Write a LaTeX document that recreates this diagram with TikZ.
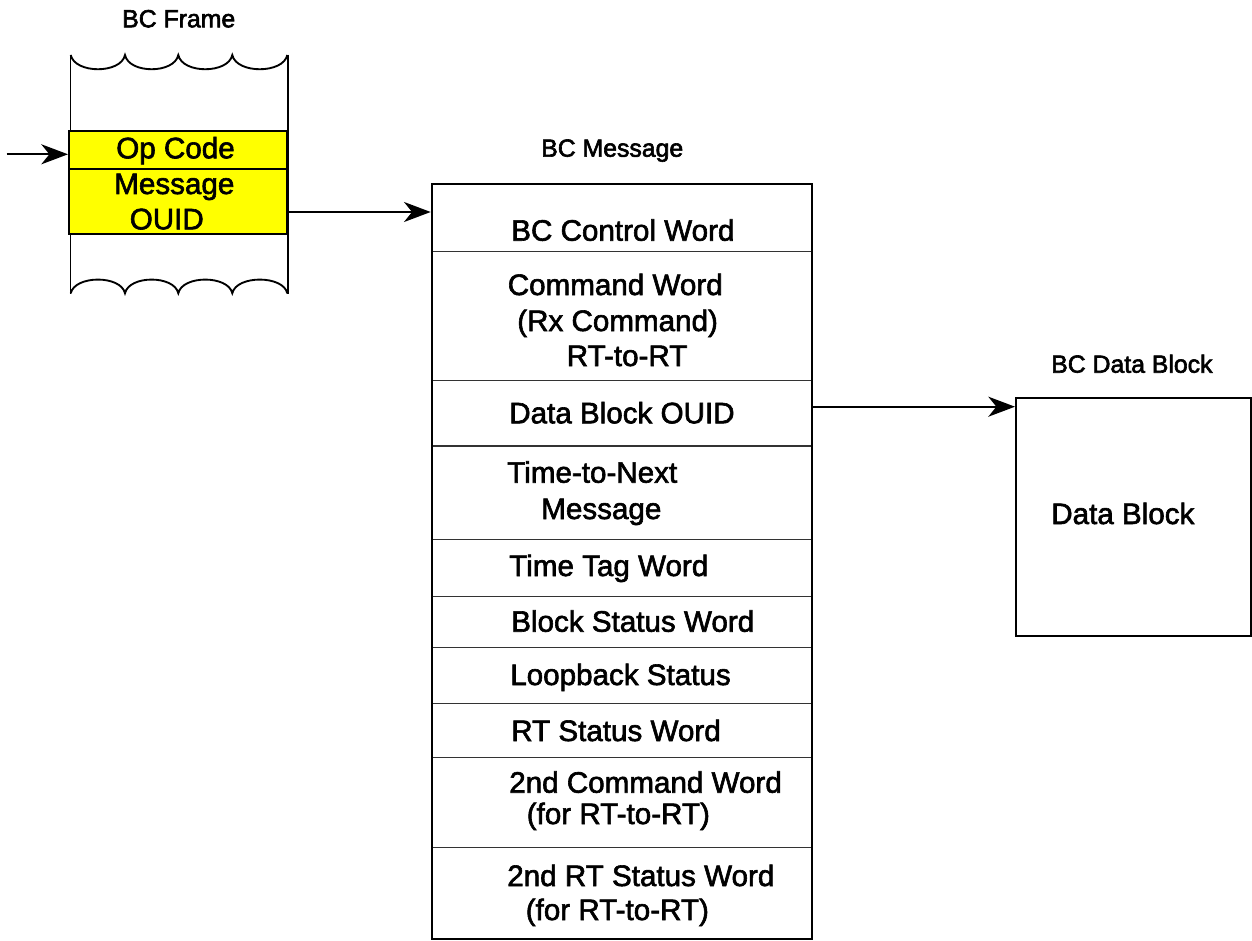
\documentclass[tikz,border=0pt]{standalone}
\usepackage{fontspec}
\setmainfont{Liberation Sans}
\usetikzlibrary{arrows.meta,fit}
\definecolor{hiyellow}{RGB}{255,255,0}
\newcommand{\heavytxt}[1]{\special{pdf:literal direct 2 Tr 0.45 w}#1\special{pdf:literal direct 0 Tr}}
\begin{document}
\begin{tikzpicture}[x=0.75pt,y=-0.75pt,
  outline/.style={draw, line width=1.5pt, inner sep=0pt},
  rowbox/.style={draw=black!80, line width=0.9pt, inner sep=0pt},
  txt/.style={anchor=base west, inner sep=0pt, font=\fontsize{22.2}{25}\selectfont},
  ttl/.style={anchor=base west, inner sep=0pt, font=\fontsize{18.6}{21}\selectfont},
  edge/.style={line width=1.4pt},
  arr/.style={line width=1.5pt, -{Stealth[length=20pt,width=15pt,inset=6pt]}}]
\useasboundingbox (0,0) rectangle (1252,941);

% ---------------- BC Frame ----------------
\node[ttl] (frameT) at (122,27.3) {\heavytxt{BC Frame}};
\node[fit={(70.7,55) (287.3,293.3)}, inner sep=0pt] (frame) {};
\draw[edge] (frame.north west) -- (frame.south west);
\draw[edge] (frame.north east) -- (frame.south east);
\draw[edge] (70.7,55) .. controls (75,74) and (121,74) .. (125,55)
  .. controls (129,74) and (174.3,74) .. (178.3,55)
  .. controls (182.3,74) and (228.3,74) .. (232.3,55)
  .. controls (236.3,74) and (283.3,74) .. (287.3,55);
\draw[edge] (70.7,293.3) .. controls (75,275) and (121,275) .. (125,293.3)
  .. controls (129,275) and (174.3,275) .. (178.3,293.3)
  .. controls (182.3,275) and (228.3,275) .. (232.3,293.3)
  .. controls (236.3,275) and (283.3,275) .. (287.3,293.3);

\node[fit={(69,131) (286.7,169.3)}, outline, fill=hiyellow] (opc) {};
\node[fit={(69,169.3) (286.7,234.3)}, outline, fill=hiyellow] (mouid) {};
\node[txt] (opT) at (116,158.3) {\heavytxt{Op Code}};
\node[txt] (msgT) at (114,194) {\heavytxt{Message}};
\node[txt] (ouidT) at (129.5,229.3) {\heavytxt{OUID}};

\coordinate (src) at (6.7,154.3);
\draw[arr] (src) -- (src -| opc.west);

% ---------------- BC Message ----------------
\node[ttl] (msgTitle) at (541,156.7) {\heavytxt{BC Message}};
\node[fit={(431.7,184.3) (811.7,251.7)}, rowbox] (r1) {};
\node[fit={(431.7,251.7) (811.7,380.7)}, rowbox] (r2) {};
\node[fit={(431.7,380.7) (811.7,446)}, rowbox] (r3) {};
\node[fit={(431.7,446) (811.7,539.3)}, rowbox] (r4) {};
\node[fit={(431.7,539.3) (811.7,596.7)}, rowbox] (r5) {};
\node[fit={(431.7,596.7) (811.7,647.3)}, rowbox] (r6) {};
\node[fit={(431.7,647.3) (811.7,703.3)}, rowbox] (r7) {};
\node[fit={(431.7,703.3) (811.7,757.3)}, rowbox] (r8) {};
\node[fit={(431.7,757.3) (811.7,847.3)}, rowbox] (r9) {};
\node[fit={(431.7,847.3) (811.7,939)}, rowbox] (r10) {};
\node[fit={(431.7,184.3) (811.7,939)}, outline] (msg) {};

\node[txt] (t1) at (511,240.7) {\heavytxt{BC Control Word}};
\node[txt] (t2a) at (507.5,295) {\heavytxt{Command Word}};
\node[txt] (t2b) at (517,331) {\heavytxt{(Rx Command)}};
\node[txt] (t2c) at (566.5,366) {\heavytxt{RT-to-RT}};
\node[txt] (t3) at (509,423.3) {\heavytxt{Data Block OUID}};
\node[txt] (t4a) at (507,482.7) {\heavytxt{Time-to-Next}};
\node[txt] (t4b) at (541,519) {\heavytxt{Message}};
\node[txt] (t5) at (509,576) {\heavytxt{Time Tag Word}};
\node[txt] (t6) at (511,631.7) {\heavytxt{Block Status Word}};
\node[txt] (t7) at (510,685) {\heavytxt{Loopback Status}};
\node[txt] (t8) at (511,741) {\heavytxt{RT Status Word}};
\node[txt] (t9a) at (509,792.7) {\heavytxt{2nd Command Word}};
\node[txt] (t9b) at (526.5,824) {\heavytxt{(for RT-to-RT)}};
\node[txt] (t10a) at (507,886) {\heavytxt{2nd RT Status Word}};
\node[txt] (t10b) at (525.5,920) {\heavytxt{(for RT-to-RT)}};

\coordinate (y212) at (0,212);
\draw[arr] (mouid.east |- y212) -- (msg.west |- y212);

% ---------------- BC Data Block ----------------
\node[ttl] (dbTitle) at (1051,372.7) {\heavytxt{BC Data Block}};
\node[fit={(1016,398.3) (1251,636)}, outline] (db) {};
\node[txt] (dbT) at (1051,524) {\heavytxt{Data Block}};

\coordinate (y407) at (0,406.7);
\draw[arr] (r3.east |- y407) -- (db.west |- y407);
\end{tikzpicture}
\end{document}
